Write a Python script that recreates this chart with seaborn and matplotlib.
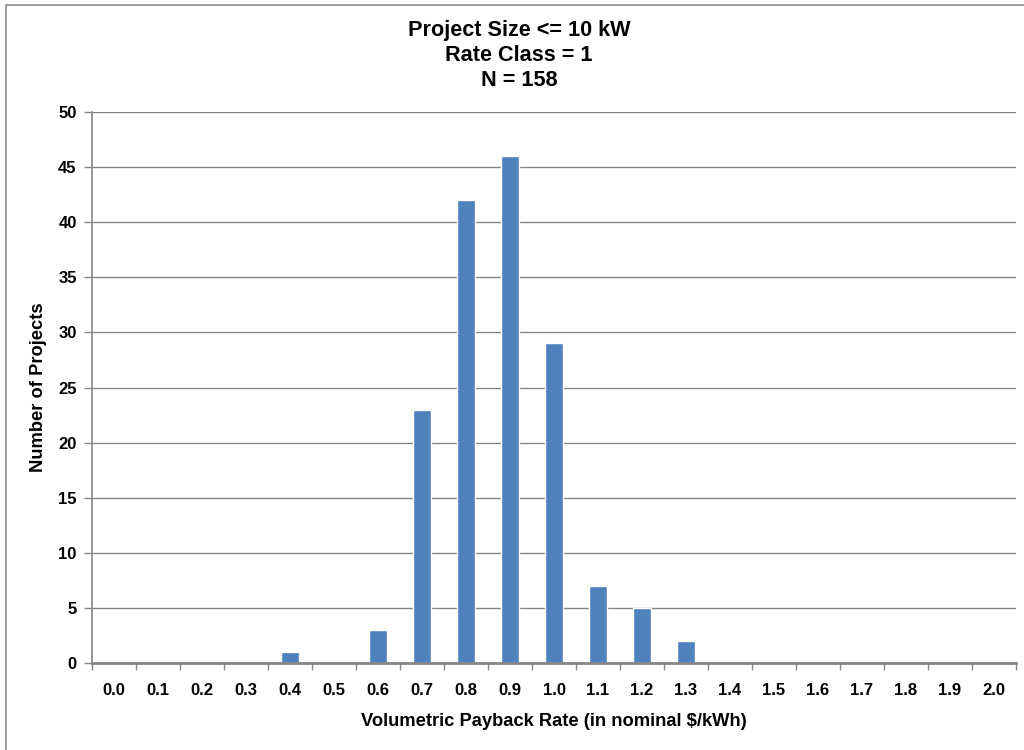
import matplotlib
matplotlib.use('Agg')
import matplotlib.pyplot as plt
import matplotlib.lines as mlines
import pandas as pd
import seaborn as sns
from matplotlib.ticker import FixedLocator

# payback rate bins and project counts
rateBins = ['0.0', '0.1', '0.2', '0.3', '0.4', '0.5', '0.6', '0.7', '0.8', '0.9', '1.0',
            '1.1', '1.2', '1.3', '1.4', '1.5', '1.6', '1.7', '1.8', '1.9', '2.0']
projectCounts = [0, 0, 0, 0, 1, 0, 3, 23, 42, 46, 29, 7, 5, 2, 0, 0, 0, 0, 0, 0, 0]
titleLines = ['Project Size <= 10 kW', 'Rate Class = 1', 'N = 158']

sns.set_theme(style='white')
plt.rcParams['font.family'] = ['Liberation Sans', 'DejaVu Sans']
plt.rcParams['font.weight'] = 'bold'
plt.rcParams['text.color'] = 'black'
plt.rcParams['axes.labelcolor'] = 'black'
plt.rcParams['xtick.labelcolor'] = 'black'
plt.rcParams['ytick.labelcolor'] = 'black'

df = pd.DataFrame({'rate': rateBins, 'count': projectCounts})

fig = plt.figure(figsize=(10.24, 7.5), dpi=100)
ax = fig.add_axes([92 / 1024, 1 - 663 / 750, (1016 - 92) / 1024, (663 - 112) / 750])

sns.barplot(data=df, x='rate', y='count', order=rateBins, color='#4F81BD',
            saturation=1, width=0.4, ax=ax)

gridColor = '#868686'
ax.set_ylim(0, 50)
ax.set_xlim(-0.5, len(rateBins) - 0.5)
ax.set_yticks(range(0, 51, 5))
ax.yaxis.grid(True, color=gridColor, linewidth=1)
ax.set_axisbelow(True)

for side in ['top', 'right']:
    ax.spines[side].set_visible(False)
ax.spines['left'].set_color(gridColor)
ax.spines['left'].set_linewidth(1.2)
ax.spines['bottom'].set_color(gridColor)
ax.spines['bottom'].set_linewidth(2)

ax.tick_params(axis='y', which='major', direction='out', length=6, width=1,
               color=gridColor, left=True, labelsize=12, pad=5)
ax.tick_params(axis='x', which='major', length=0, labelsize=12, pad=14.5)
ax.xaxis.set_minor_locator(FixedLocator([i - 0.5 for i in range(len(rateBins) + 1)]))
ax.tick_params(axis='x', which='minor', direction='out', length=5, width=1,
               color=gridColor, bottom=True)
for lbl in ax.get_xticklabels() + ax.get_yticklabels():
    lbl.set_fontweight('bold')

ax.set_xlabel('Volumetric Payback Rate (in nominal $/kWh)', fontsize=13.2, fontweight='bold', labelpad=11)
ax.set_ylabel('Number of Projects', fontsize=13.2, fontweight='bold', labelpad=8)

fig.text(519 / 1024, 1 - 20 / 750, '\n'.join(titleLines), ha='center', va='top',
         fontsize=15.6, fontweight='bold', linespacing=1.24)

# chart frame on left and top
fig.add_artist(mlines.Line2D([6 / 1024, 6 / 1024], [0, 1 - 5 / 750], color='#8c8c8c', linewidth=1.2))
fig.add_artist(mlines.Line2D([6 / 1024, 1], [1 - 5 / 750, 1 - 5 / 750], color='#8c8c8c', linewidth=1.2))

fig.savefig('out.png', dpi=100)
